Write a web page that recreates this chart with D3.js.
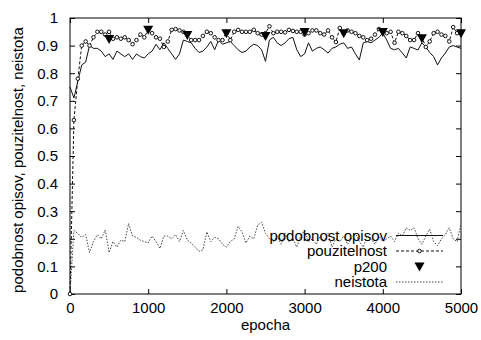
<!DOCTYPE html>
<html>
<head>
<meta charset="utf-8">
<script src="https://cdn.jsdelivr.net/npm/d3@7"></script>
<style>
    body { margin: 0; background: #fff; }
    text { font-family: "Liberation Sans", Arial, sans-serif; fill: #000; }
</style>
</head>
<body>
<div id="vis"></div>
<script>
// epochs sampled every 50
const epochs = d3.range(0, 5001, 50);

const podobnost = [
    0.75, 0.71, 0.77, 0.83, 0.84, 0.90, 0.89, 0.89, 0.88, 0.86,
    0.87, 0.85, 0.88, 0.87, 0.86, 0.87, 0.85, 0.87, 0.86, 0.855,
    0.87, 0.88, 0.905, 0.885, 0.91, 0.89, 0.87, 0.85, 0.87, 0.92,
    0.915, 0.91, 0.89, 0.875, 0.88, 0.895, 0.915, 0.885, 0.92, 0.905,
    0.91, 0.915, 0.90, 0.885, 0.875, 0.88, 0.895, 0.905, 0.90, 0.885,
    0.843, 0.92, 0.93, 0.91, 0.90, 0.91, 0.925, 0.93, 0.885, 0.86,
    0.87, 0.91, 0.88, 0.89, 0.895, 0.885, 0.873, 0.89, 0.895, 0.905,
    0.91, 0.89, 0.895, 0.87, 0.848, 0.91, 0.915, 0.91, 0.92, 0.93,
    0.945, 0.92, 0.89, 0.885, 0.89, 0.873, 0.855, 0.895, 0.89, 0.884,
    0.91, 0.895, 0.875, 0.86, 0.83, 0.855, 0.873, 0.895, 0.90, 0.895,
    0.89
];

const pouzitelnost = [
    0.0, 0.63, 0.78, 0.90, 0.915, 0.90, 0.93, 0.95, 0.95, 0.94,
    0.95, 0.925, 0.93, 0.925, 0.93, 0.92, 0.905, 0.92, 0.94, 0.93,
    0.957, 0.945, 0.93, 0.925, 0.895, 0.915, 0.957, 0.96, 0.955, 0.95,
    0.94, 0.92, 0.92, 0.92, 0.935, 0.95, 0.945, 0.93, 0.92, 0.92,
    0.95, 0.92, 0.95, 0.957, 0.95, 0.95, 0.95, 0.957, 0.945, 0.94,
    0.945, 0.97, 0.945, 0.95, 0.95, 0.948, 0.957, 0.953, 0.95, 0.95,
    0.94, 0.945, 0.955, 0.955, 0.945, 0.94, 0.955, 0.93, 0.913, 0.964,
    0.945, 0.955, 0.95, 0.945, 0.935, 0.93, 0.92, 0.925, 0.94, 0.96,
    0.95, 0.945, 0.95, 0.91, 0.95, 0.945, 0.935, 0.92, 0.92, 0.945,
    0.93, 0.895, 0.915, 0.945, 0.95, 0.94, 0.935, 0.915, 0.967, 0.945,
    0.95
];

const neistota = [
    0.0, 0.23, 0.22, 0.205, 0.215, 0.15, 0.19, 0.215, 0.20, 0.232,
    0.15, 0.19, 0.17, 0.195, 0.19, 0.255, 0.21, 0.205, 0.195, 0.19,
    0.185, 0.21, 0.19, 0.165, 0.21, 0.21, 0.20, 0.215, 0.19, 0.23,
    0.195, 0.185, 0.17, 0.155, 0.16, 0.225, 0.19, 0.205, 0.20, 0.18,
    0.17, 0.19, 0.20, 0.245, 0.225, 0.185, 0.21, 0.20, 0.25, 0.26,
    0.22, 0.20, 0.19, 0.21, 0.18, 0.22, 0.19, 0.20, 0.17, 0.21,
    0.23, 0.19, 0.20, 0.18, 0.21, 0.19, 0.22, 0.17, 0.20, 0.19,
    0.21, 0.18, 0.20, 0.22, 0.19, 0.17, 0.21, 0.20, 0.18, 0.21,
    0.19, 0.20, 0.21, 0.19, 0.22, 0.21, 0.24, 0.23, 0.24, 0.20,
    0.18, 0.21, 0.235, 0.19, 0.175, 0.20, 0.215, 0.24, 0.20, 0.19,
    0.256
];

const p200Epochs = [500, 1000, 1500, 2000, 2500, 3000, 3500, 4000, 4500, 5000];
const p200 = [0.924, 0.957, 0.938, 0.945, 0.935, 0.949, 0.945, 0.949, 0.927, 0.945];

const xTicks = [0, 1000, 2000, 3000, 4000, 5000];
const yTicks = [0, 0.1, 0.2, 0.3, 0.4, 0.5, 0.6, 0.7, 0.8, 0.9, 1];
const legendLabels = ['podobnost opisov', 'pouzitelnost', 'p200', 'neistota'];

const width = 481;
const height = 340;
const margins = { top: 18, right: 20, bottom: 46, left: 70 };

const svg = d3.select('#vis').append('svg')
    .attr('width', width)
    .attr('height', height);

const x = d3.scaleLinear().domain([0, 5000]).range([margins.left, width - margins.right]);
const y = d3.scaleLinear().domain([0, 1]).range([height - margins.bottom, margins.top]);

// axes, gnuplot style: ticks inward and mirrored
svg.append('g')
    .attr('transform', `translate(0,${y(0)})`)
    .call(d3.axisBottom(x).tickValues(xTicks).tickFormat(d3.format('d')).tickSizeInner(-5).tickSizeOuter(0).tickPadding(8))
    .call(g => g.select('.domain').remove())
    .call(g => g.selectAll('text').attr('font-size', 15).attr('font-family', null));

svg.append('g')
    .attr('transform', `translate(${x(0)},0)`)
    .call(d3.axisLeft(y).tickValues(yTicks).tickFormat(d3.format('~g')).tickSizeInner(-5).tickSizeOuter(0).tickPadding(12))
    .call(g => g.select('.domain').remove())
    .call(g => g.selectAll('text').attr('font-size', 15).attr('font-family', null));

svg.append('g')
    .attr('transform', `translate(0,${y(1)})`)
    .call(d3.axisTop(x).tickValues(xTicks).tickSizeInner(-5).tickSizeOuter(0).tickFormat(''))
    .call(g => g.select('.domain').remove());

svg.append('g')
    .attr('transform', `translate(${x(5000)},0)`)
    .call(d3.axisRight(y).tickValues(yTicks).tickSizeInner(-5).tickSizeOuter(0).tickFormat(''))
    .call(g => g.select('.domain').remove());

svg.selectAll('.tick line').attr('stroke', '#000');

svg.append('rect')
    .attr('x', x(0))
    .attr('y', y(1))
    .attr('width', x(5000) - x(0))
    .attr('height', y(0) - y(1))
    .attr('fill', 'none')
    .attr('stroke', '#000');

// axis titles
svg.append('text')
    .attr('transform', `translate(18,${(y(0) + y(1)) / 2 + 4}) rotate(-90)`)
    .attr('text-anchor', 'middle')
    .attr('dy', '0.35em')
    .attr('font-size', 15)
    .text('podobnost opisov, pouzitelnost, neistota');

svg.append('text')
    .attr('x', (x(0) + x(5000)) / 2)
    .attr('y', 330)
    .attr('text-anchor', 'middle')
    .attr('font-size', 15)
    .text('epocha');

const line = vals => d3.line()
    .x((d, i) => x(epochs[i]))
    .y(d => y(d))(vals);

// neistota
svg.append('path')
    .attr('d', line(neistota))
    .attr('fill', 'none')
    .attr('stroke', '#444')
    .attr('stroke-width', 1)
    .attr('stroke-dasharray', '1.5,1.5');

// podobnost opisov
svg.append('path')
    .attr('d', line(podobnost))
    .attr('fill', 'none')
    .attr('stroke', '#111')
    .attr('stroke-width', 1);

// pouzitelnost
svg.append('path')
    .attr('d', line(pouzitelnost))
    .attr('fill', 'none')
    .attr('stroke', '#111')
    .attr('stroke-width', 1)
    .attr('stroke-dasharray', '3,2');

svg.append('g')
    .selectAll('circle')
    .data(pouzitelnost)
    .join('circle')
    .attr('cx', (d, i) => x(epochs[i]))
    .attr('cy', d => y(d))
    .attr('r', 1.8)
    .attr('fill', '#fff')
    .attr('stroke', '#111')
    .attr('stroke-width', 1);

// p200 triangles
const tri = (cx, cy) => `M${cx - 5},${cy - 4}L${cx + 5},${cy - 4}L${cx},${cy + 5}Z`;

svg.append('g')
    .selectAll('path')
    .data(p200)
    .join('path')
    .attr('d', (d, i) => tri(x(p200Epochs[i]), y(d)))
    .attr('fill', '#000');

// legend
const legendX = 387;
const sampleX0 = 396;
const sampleX1 = 443;
const legendY = i => 235.5 + i * 15.5;

const legend = svg.append('g');
legend.selectAll('text')
    .data(legendLabels)
    .join('text')
    .attr('x', legendX)
    .attr('y', (d, i) => legendY(i))
    .attr('dy', '0.35em')
    .attr('text-anchor', 'end')
    .attr('font-size', 15)
    .text(d => d);

legend.append('line')
    .attr('x1', sampleX0).attr('x2', sampleX1)
    .attr('y1', legendY(0)).attr('y2', legendY(0))
    .attr('stroke', '#111');

legend.append('line')
    .attr('x1', sampleX0).attr('x2', sampleX1)
    .attr('y1', legendY(1)).attr('y2', legendY(1))
    .attr('stroke', '#111')
    .attr('stroke-dasharray', '3,2');

legend.append('circle')
    .attr('cx', (sampleX0 + sampleX1) / 2)
    .attr('cy', legendY(1))
    .attr('r', 1.8)
    .attr('fill', '#fff')
    .attr('stroke', '#111');

legend.append('path')
    .attr('d', tri((sampleX0 + sampleX1) / 2, legendY(2)))
    .attr('fill', '#000');

legend.append('line')
    .attr('x1', sampleX0).attr('x2', sampleX1)
    .attr('y1', legendY(3)).attr('y2', legendY(3))
    .attr('stroke', '#444')
    .attr('stroke-dasharray', '1.5,1.5');
</script>
</body>
</html>
